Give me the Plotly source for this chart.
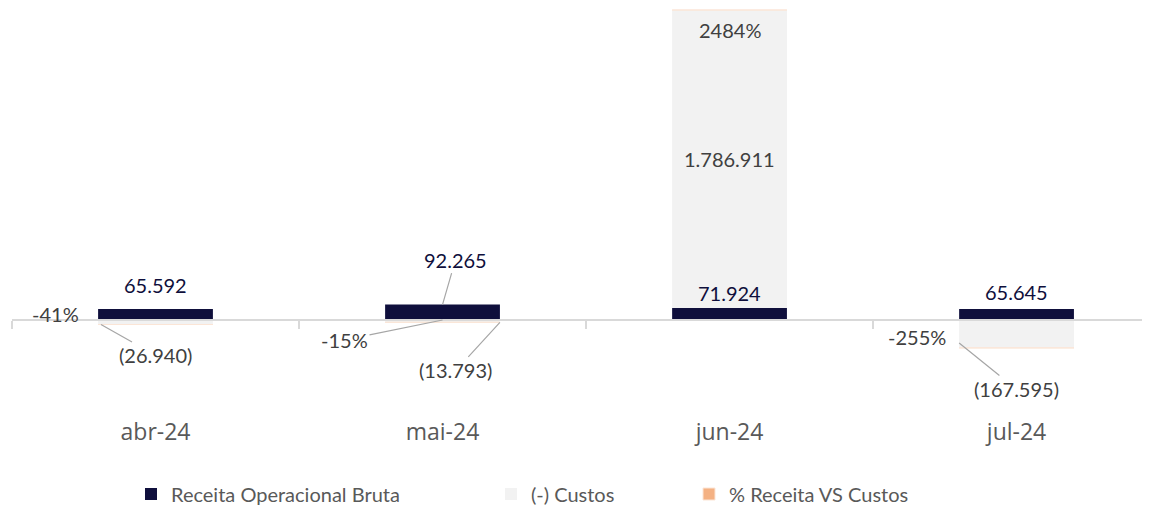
import plotly.graph_objects as go

# data
meses = ['abr-24', 'mai-24', 'jun-24', 'jul-24']
receita = [65592, 92265, 71924, 65645]
custos = [-26940, -13793, 1786911, -167595]
pct = [-0.41, -0.15, 24.84, -2.55]

NAVY = '#0f0f3c'
CINZA = '#f2f2f2'
LARANJA = '#f4b183'
TXT = '#404040'
LINHA = '#a6a6a6'


def fmt_num(v):
    s = '{:,.0f}'.format(abs(v)).replace(',', '.')
    return '(' + s + ')' if v < 0 else s


def fmt_pct(v):
    return '{:.0f}%'.format(v * 100)


fig = go.Figure()
fig.add_trace(go.Bar(x=meses, y=receita, name='Receita Operacional Bruta',
                     marker=dict(color=NAVY, line_width=0), width=0.4,
                     showlegend=True))
fig.add_trace(go.Bar(x=meses, y=custos, name='(-) Custos',
                     marker=dict(color=CINZA, line_width=0), width=0.4,
                     legend='legend2', showlegend=True))
fig.add_trace(go.Bar(x=meses, y=pct, name='% Receita VS Custos',
                     marker=dict(color=LARANJA, line=dict(color='#fbe5d6', width=1)),
                     width=0.4, legend='legend3', showlegend=True))

# vertical scale: zero at 312px, jun stack top at 2px (figure coords)
topo = receita[2] + custos[2] + pct[2]
px = topo / 310.0
ymax = topo + 2 * px
ymin = -92 * px
zero_pos = (0 - ymin) / (ymax - ymin)

ann = []
f_navy = dict(family='Lato', size=20, color=NAVY)
f_cinza = dict(family='Lato', size=20, color=TXT)
seta = dict(showarrow=True, arrowhead=0, arrowwidth=1.2, arrowcolor=LINHA,
            axref='pixel', ayref='pixel')

# receita labels
ann.append(dict(x=0, y=receita[0], text=fmt_num(receita[0]), showarrow=False,
                yshift=24, font=f_navy))
ann.append(dict(x=1, y=receita[1], text=fmt_num(receita[1]), ax=13, ay=-45,
                font=f_navy, **seta))
ann.append(dict(x=2, y=receita[2], text=fmt_num(receita[2]), showarrow=False,
                yshift=15, font=f_navy))
ann.append(dict(x=3, y=receita[3], text=fmt_num(receita[3]), showarrow=False,
                yshift=17, font=f_navy))

# custos labels
ann.append(dict(x=-0.19, y=custos[0], text=fmt_num(custos[0]), ax=55, ay=31,
                font=f_cinza, **seta))
ann.append(dict(x=1.2, y=custos[1], text=fmt_num(custos[1]), ax=-44, ay=48,
                font=f_cinza, **seta))
ann.append(dict(x=2, y=receita[2] + custos[2] / 2, text=fmt_num(custos[2]),
                showarrow=False, font=f_cinza))
ann.append(dict(x=2.8, y=custos[3], text=fmt_num(custos[3]), ax=57, ay=46,
                yshift=5, font=f_cinza, **seta))

# % labels
ann.append(dict(x=-0.2, y=0, text=fmt_pct(pct[0]), showarrow=False,
                xanchor='right', xshift=-17, yshift=6, font=f_cinza))
ann.append(dict(x=1, y=0, text=fmt_pct(pct[1]), ax=-98, ay=20,
                font=f_cinza, **seta))
ann.append(dict(x=2, y=topo, text=fmt_pct(pct[2]), showarrow=False,
                yshift=-20, font=f_cinza))
ann.append(dict(x=2.8, y=0, text=fmt_pct(pct[3]), showarrow=False,
                xanchor='right', xshift=-11, yshift=-17, font=f_cinza))

# legends below the plot area (plot area 1138 x 404 px)
leg_y = (404 - 486) / 404.0
leg = dict(orientation='h', yanchor='middle', xanchor='left', y=leg_y,
           bgcolor='rgba(0,0,0,0)',
           font=dict(family='Lato', size=20, color='#595959'))

fig.update_layout(
    width=1142, height=498,
    barmode='relative',
    showlegend=True,
    plot_bgcolor='white', paper_bgcolor='white',
    margin=dict(l=4, r=0, t=0, b=94, autoexpand=False),
    annotations=ann,
    xaxis=dict(type='category', range=[-0.5, 3.465], anchor='free',
               position=zero_pos, showline=True, linecolor='#d9d9d9',
               linewidth=1.5, tickson='boundaries', ticks='outside',
               ticklen=8, tickcolor='#d9d9d9', tickwidth=1.5,
               ticklabelstandoff=92, showgrid=False, automargin=False,
               tickfont=dict(family='Open Sans', size=23, color='#595959')),
    yaxis=dict(range=[ymin, ymax], visible=False, showgrid=False,
               zeroline=False, automargin=False),
    legend=dict(leg, x=(131 - 12) / 1138.0),
    legend2=dict(leg, x=(491 - 12) / 1138.0),
    legend3=dict(leg, x=(689 - 12) / 1138.0),
)

fig.write_html('out.html')
